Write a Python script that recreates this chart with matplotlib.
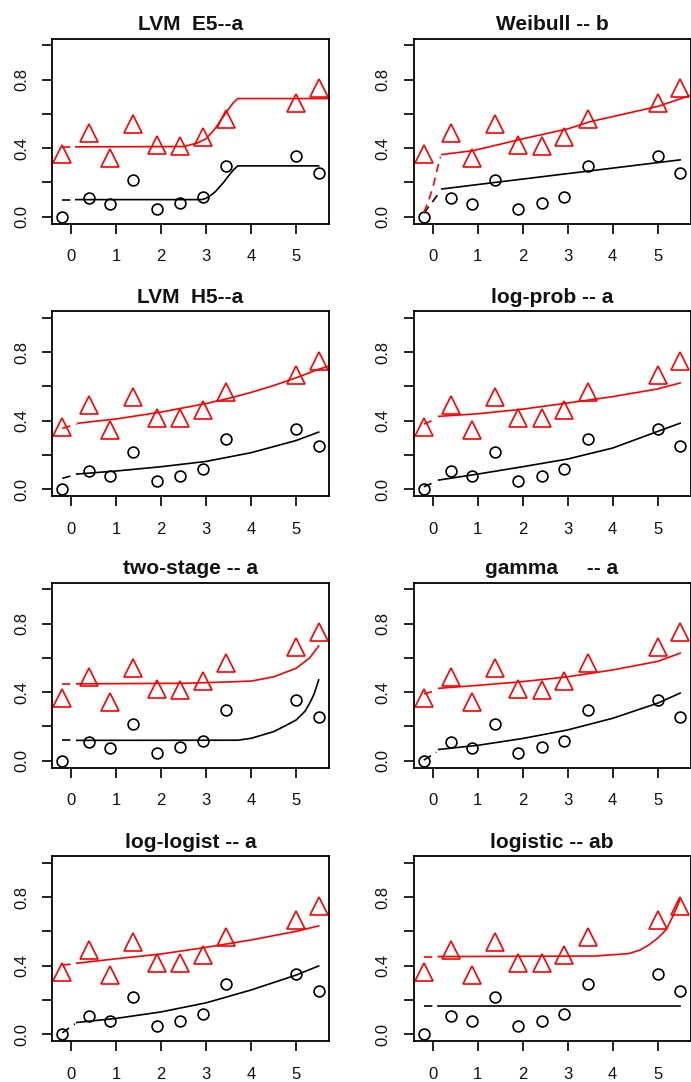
import matplotlib
matplotlib.use('Agg')
import matplotlib.pyplot as plt

plt.rcParams['font.family'] = ['Liberation Sans', 'DejaVu Sans']

# observed data (log dose, response)
dose = [-0.2, 0.4, 0.87, 1.38, 1.9, 2.42, 2.92, 3.45, 5.0, 5.5]
resp_black = [0.0, 0.108, 0.077, 0.215, 0.048, 0.078, 0.115, 0.295, 0.353, 0.254]
resp_red = [0.365, 0.49, 0.345, 0.54, 0.417, 0.415, 0.464, 0.57, 0.665, 0.75]

titles = ['LVM  E5--a', 'Weibull -- b', 'LVM  H5--a', 'log-prob -- a',
          'two-stage -- a', 'gamma     -- a', 'log-logist -- a', 'logistic -- ab']

# fitted curves
# LVM E5
e5_bd_x = [-0.2, 0.1]; e5_bd_y = [0.10, 0.10]
e5_b_x = [0.1, 2.9, 3.0, 3.1, 3.2, 3.3, 3.4, 3.5, 3.6, 3.7, 5.5]
e5_b_y = [0.10, 0.10, 0.108, 0.125, 0.146, 0.175, 0.205, 0.24, 0.272, 0.297, 0.297]
e5_rd_x = [-0.2, 0.1]; e5_rd_y = [0.408, 0.408]
e5_r_x = [0.1, 2.5, 2.8, 3.0, 3.1, 3.2, 3.3, 3.4, 3.5, 3.6, 3.7, 5.75]
e5_r_y = [0.408, 0.41, 0.43, 0.456, 0.485, 0.515, 0.555, 0.592, 0.63, 0.665, 0.69, 0.69]

# Weibull
wb_bd_x = [-0.2, 0.17]; wb_bd_y = [0.02, 0.15]
wb_b_x = [0.2, 1, 2, 3, 4, 5, 5.5]
wb_b_y = [0.162, 0.188, 0.22, 0.252, 0.284, 0.316, 0.332]
wb_rd_x = [-0.2, -0.1, 0.0, 0.1, 0.17]; wb_rd_y = [0.025, 0.09, 0.17, 0.28, 0.35]
wb_r_x = [0.2, 0.9, 2, 3, 3.5, 5, 5.75]
wb_r_y = [0.363, 0.386, 0.455, 0.513, 0.555, 0.644, 0.71]

# LVM H5
h5_bd_x = [-0.2, 0.1]; h5_bd_y = [0.063, 0.085]
h5_b_x = [0.12, 1, 2, 3, 4, 5, 5.5]
h5_b_y = [0.088, 0.106, 0.131, 0.162, 0.213, 0.284, 0.333]
h5_rd_x = [-0.2, 0.12]; h5_rd_y = [0.355, 0.38]
h5_r_x = [0.15, 1, 2, 3, 3.5, 4, 4.5, 5, 5.5, 5.75]
h5_r_y = [0.385, 0.41, 0.45, 0.5, 0.53, 0.565, 0.605, 0.65, 0.7, 0.72]

# log-prob
lp_bd_x = [-0.2, 0.08]; lp_bd_y = [0.014, 0.045]
lp_b_x = [0.13, 1, 2, 3, 4, 5, 5.5]
lp_b_y = [0.053, 0.088, 0.131, 0.176, 0.24, 0.337, 0.385]
lp_rd_x = [-0.2, 0.08]; lp_rd_y = [0.38, 0.41]
lp_r_x = [0.13, 1, 2, 3, 4, 5, 5.5]
lp_r_y = [0.425, 0.44, 0.467, 0.503, 0.54, 0.585, 0.62]

# two-stage
ts_bd_x = [-0.2, 0.1]; ts_bd_y = [0.119, 0.119]
ts_b_x = [0.12, 3.7, 4.0, 4.5, 4.8, 5.0, 5.2, 5.3, 5.4, 5.5]
ts_b_y = [0.119, 0.12, 0.131, 0.17, 0.21, 0.238, 0.29, 0.336, 0.39, 0.472]
ts_rd_x = [-0.2, 0.1]; ts_rd_y = [0.449, 0.449]
ts_r_x = [0.12, 2.5, 3.5, 4.0, 4.5, 5.0, 5.3, 5.5]
ts_r_y = [0.449, 0.452, 0.46, 0.465, 0.49, 0.54, 0.6, 0.67]

# gamma
gm_bd_x = [-0.2, 0.08]; gm_bd_y = [0.004, 0.05]
gm_b_x = [0.13, 1, 2, 3, 4, 5, 5.5]
gm_b_y = [0.066, 0.09, 0.13, 0.18, 0.248, 0.336, 0.395]
gm_rd_x = [-0.2, 0.08]; gm_rd_y = [0.39, 0.41]
gm_r_x = [0.13, 1, 2, 3, 4, 5, 5.5]
gm_r_y = [0.423, 0.44, 0.462, 0.49, 0.53, 0.58, 0.628]

# log-logist
ll_bd_x = [-0.2, 0.08]; ll_bd_y = [0.008, 0.06]
ll_b_x = [0.12, 1, 2, 3, 4, 5, 5.5]
ll_b_y = [0.068, 0.092, 0.13, 0.183, 0.258, 0.345, 0.398]
ll_rd_x = [-0.2, 0.08]; ll_rd_y = [0.404, 0.41]
ll_r_x = [0.12, 1, 2, 3, 4, 5, 5.5]
ll_r_y = [0.414, 0.44, 0.468, 0.507, 0.55, 0.6, 0.632]

# logistic
lg_bd_x = [-0.2, 0.08]; lg_bd_y = [0.164, 0.164]
lg_b_x = [0.12, 5.5]
lg_b_y = [0.164, 0.164]
lg_rd_x = [-0.2, 0.08]; lg_rd_y = [0.453, 0.453]
lg_r_x = [0.12, 3.6, 4.35, 4.6, 4.8, 5.0, 5.19, 5.34, 5.45, 5.5]
lg_r_y = [0.453, 0.456, 0.47, 0.49, 0.52, 0.56, 0.61, 0.69, 0.755, 0.79]

curves = [
    (e5_bd_x, e5_bd_y, e5_b_x, e5_b_y, e5_rd_x, e5_rd_y, e5_r_x, e5_r_y),
    (wb_bd_x, wb_bd_y, wb_b_x, wb_b_y, wb_rd_x, wb_rd_y, wb_r_x, wb_r_y),
    (h5_bd_x, h5_bd_y, h5_b_x, h5_b_y, h5_rd_x, h5_rd_y, h5_r_x, h5_r_y),
    (lp_bd_x, lp_bd_y, lp_b_x, lp_b_y, lp_rd_x, lp_rd_y, lp_r_x, lp_r_y),
    (ts_bd_x, ts_bd_y, ts_b_x, ts_b_y, ts_rd_x, ts_rd_y, ts_r_x, ts_r_y),
    (gm_bd_x, gm_bd_y, gm_b_x, gm_b_y, gm_rd_x, gm_rd_y, gm_r_x, gm_r_y),
    (ll_bd_x, ll_bd_y, ll_b_x, ll_b_y, ll_rd_x, ll_rd_y, ll_r_x, ll_r_y),
    (lg_bd_x, lg_bd_y, lg_b_x, lg_b_y, lg_rd_x, lg_rd_y, lg_r_x, lg_r_y),
]

W, H = 691, 1082
fig = plt.figure(figsize=(W / 100, H / 100), dpi=100)

col_left = [52, 413.5]
row_top = [38.6, 311, 582.6, 856]
box_w, box_h = 277, 185

lw = 1.2
dash = (5, 3.5)

for i, title in enumerate(titles):
    r, c = divmod(i, 2)
    rect = [col_left[c] / W, 1 - (row_top[r] + box_h) / H, box_w / W, box_h / H]
    ax = fig.add_axes(rect)
    bdx, bdy, bx, by, rdx, rdy, rx, ry = curves[i]

    ax.plot(dose, resp_black, 'o', mfc='none', mec='black', ms=7.8, mew=1.2)
    ax.plot(dose, resp_red, '^', mfc='none', mec='red', ms=12.5, mew=1.2)
    ax.plot(bdx, bdy, color='black', lw=lw, dashes=dash)
    ax.plot(bx, by, color='black', lw=lw)
    ax.plot(rdx, rdy, color='red', lw=lw, dashes=dash)
    ax.plot(rx, ry, color='red', lw=lw)

    ax.set_xlim(-0.43, 5.73)
    ax.set_ylim(-0.04, 1.04)
    ax.set_xticks(range(6))
    ax.set_yticks([0, 0.2, 0.4, 0.6, 0.8, 1.0])
    ax.set_yticklabels(['0.0', '', '0.4', '', '0.8', ''])
    for lab in ax.get_yticklabels():
        lab.set_rotation(90)
        lab.set_va('center')
    ax.tick_params(direction='out', length=7.5, width=1.3, labelsize=12,
                   colors='#111111')
    ax.tick_params(axis='x', pad=11)
    ax.tick_params(axis='y', pad=9)
    for s in ax.spines.values():
        s.set_linewidth(1.3)
    ax.set_title(title, fontsize=15, fontweight='bold', pad=6, color='#111111')

fig.savefig('out.png', dpi=100)
